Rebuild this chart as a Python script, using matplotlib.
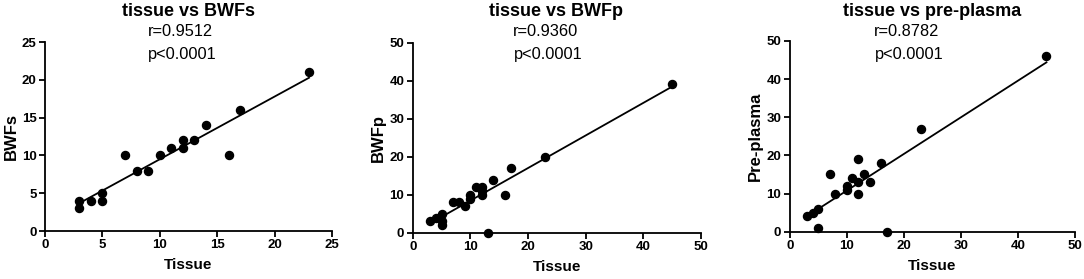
import numpy as np
import matplotlib
matplotlib.use("Agg")
import matplotlib.pyplot as plt

plt.rcParams['font.family'] = ['Liberation Sans', 'DejaVu Sans']

# ---- data ----
tissue_a = [3, 3, 4, 5, 5, 7, 8, 9, 10, 11, 12, 12, 13, 14, 16, 17, 23]
bwfs     = [3, 4, 4, 4, 5, 10, 8, 8, 10, 11, 11, 12, 12, 14, 10, 16, 21]

tissue_b = [3, 4, 5, 5, 5, 7, 8, 9, 10, 10, 11, 12, 12, 12, 13, 14, 16, 17, 23, 45]
bwfp     = [3, 4, 5, 3, 2, 8, 8, 7, 9, 10, 12, 12, 11, 10, 0, 14, 10, 17, 20, 39]

tissue_c = [3, 4, 5, 5, 7, 8, 10, 10, 11, 12, 12, 12, 13, 14, 16, 17, 23, 45]
preplasma = [4, 5, 6, 1, 15, 10, 12, 11, 14, 19, 13, 10, 15, 13, 18, 0, 27, 46]

titles = ["tissue vs BWFs", "tissue vs BWFp", "tissue vs pre-plasma"]
ylabels = ["BWFs", "BWFp", "Pre-plasma"]
r_texts = ["r=0.9512", "r=0.9360", "r=0.8782"]
p_text = "p<0.0001"
xlim_max = [25, 50, 50]
ylim_max = [25, 50, 50]
tick_step = [5, 10, 10]

W, H = 1084, 279
fig = plt.figure(figsize=(W / 100, H / 100), dpi=100)

# axes boxes in pixels: left, top(y=max), right, bottom(y=0)
boxes = [(45, 42, 332, 231), (412.7, 42.7, 701, 232.7), (789.7, 41, 1075, 231.7)]
title_pos = [(188, 12), (556, 12), (932, 11)]
r_pos = [(180, 32), (546, 32), (907, 31)]
p_pos = [(182, 54), (548, 55), (909, 54)]

datasets = [(tissue_a, bwfs), (tissue_b, bwfp), (tissue_c, preplasma)]

for i, (xs, ys) in enumerate(datasets):
    l, t, r, b = boxes[i]
    ax = fig.add_axes([l / W, (H - b) / H, (r - l) / W, (b - t) / H])
    xs = np.array(xs, float)
    ys = np.array(ys, float)
    ax.plot(xs, ys, 'o', color='black', markersize=5.8, zorder=3, clip_on=False)
    k, c = np.polyfit(xs, ys, 1)
    xx = np.array([xs.min(), xs.max()])
    ax.plot(xx, k * xx + c, color='black', lw=1.3, zorder=2)
    ax.set_xlim(0, xlim_max[i])
    ax.set_ylim(0, ylim_max[i])
    ax.set_xticks(np.arange(0, xlim_max[i] + 1, tick_step[i]))
    ax.set_yticks(np.arange(0, ylim_max[i] + 1, tick_step[i]))
    for s in ['top', 'right']:
        ax.spines[s].set_visible(False)
    for s in ['left', 'bottom']:
        ax.spines[s].set_linewidth(1.3)
    ax.tick_params(direction='out', length=4, width=1.3, labelsize=9.5, pad=2)
    for lab in ax.get_xticklabels() + ax.get_yticklabels():
        lab.set_fontweight('bold')
    ax.set_xlabel("Tissue", fontsize=11, fontweight='bold', labelpad=5)
    ax.set_ylabel(ylabels[i], fontsize=12, fontweight='bold', labelpad=2.5)

    tx, ty = title_pos[i]
    fig.text(tx / W, 1 - ty / H, titles[i], ha='center', va='center',
             fontsize=13, fontweight='bold')
    rx, ry = r_pos[i]
    fig.text(rx / W, 1 - ry / H, r_texts[i], ha='center', va='center', fontsize=11.8)
    px, py = p_pos[i]
    fig.text(px / W, 1 - py / H, p_text, ha='center', va='center', fontsize=11.8)

fig.savefig("out.png", dpi=100)
